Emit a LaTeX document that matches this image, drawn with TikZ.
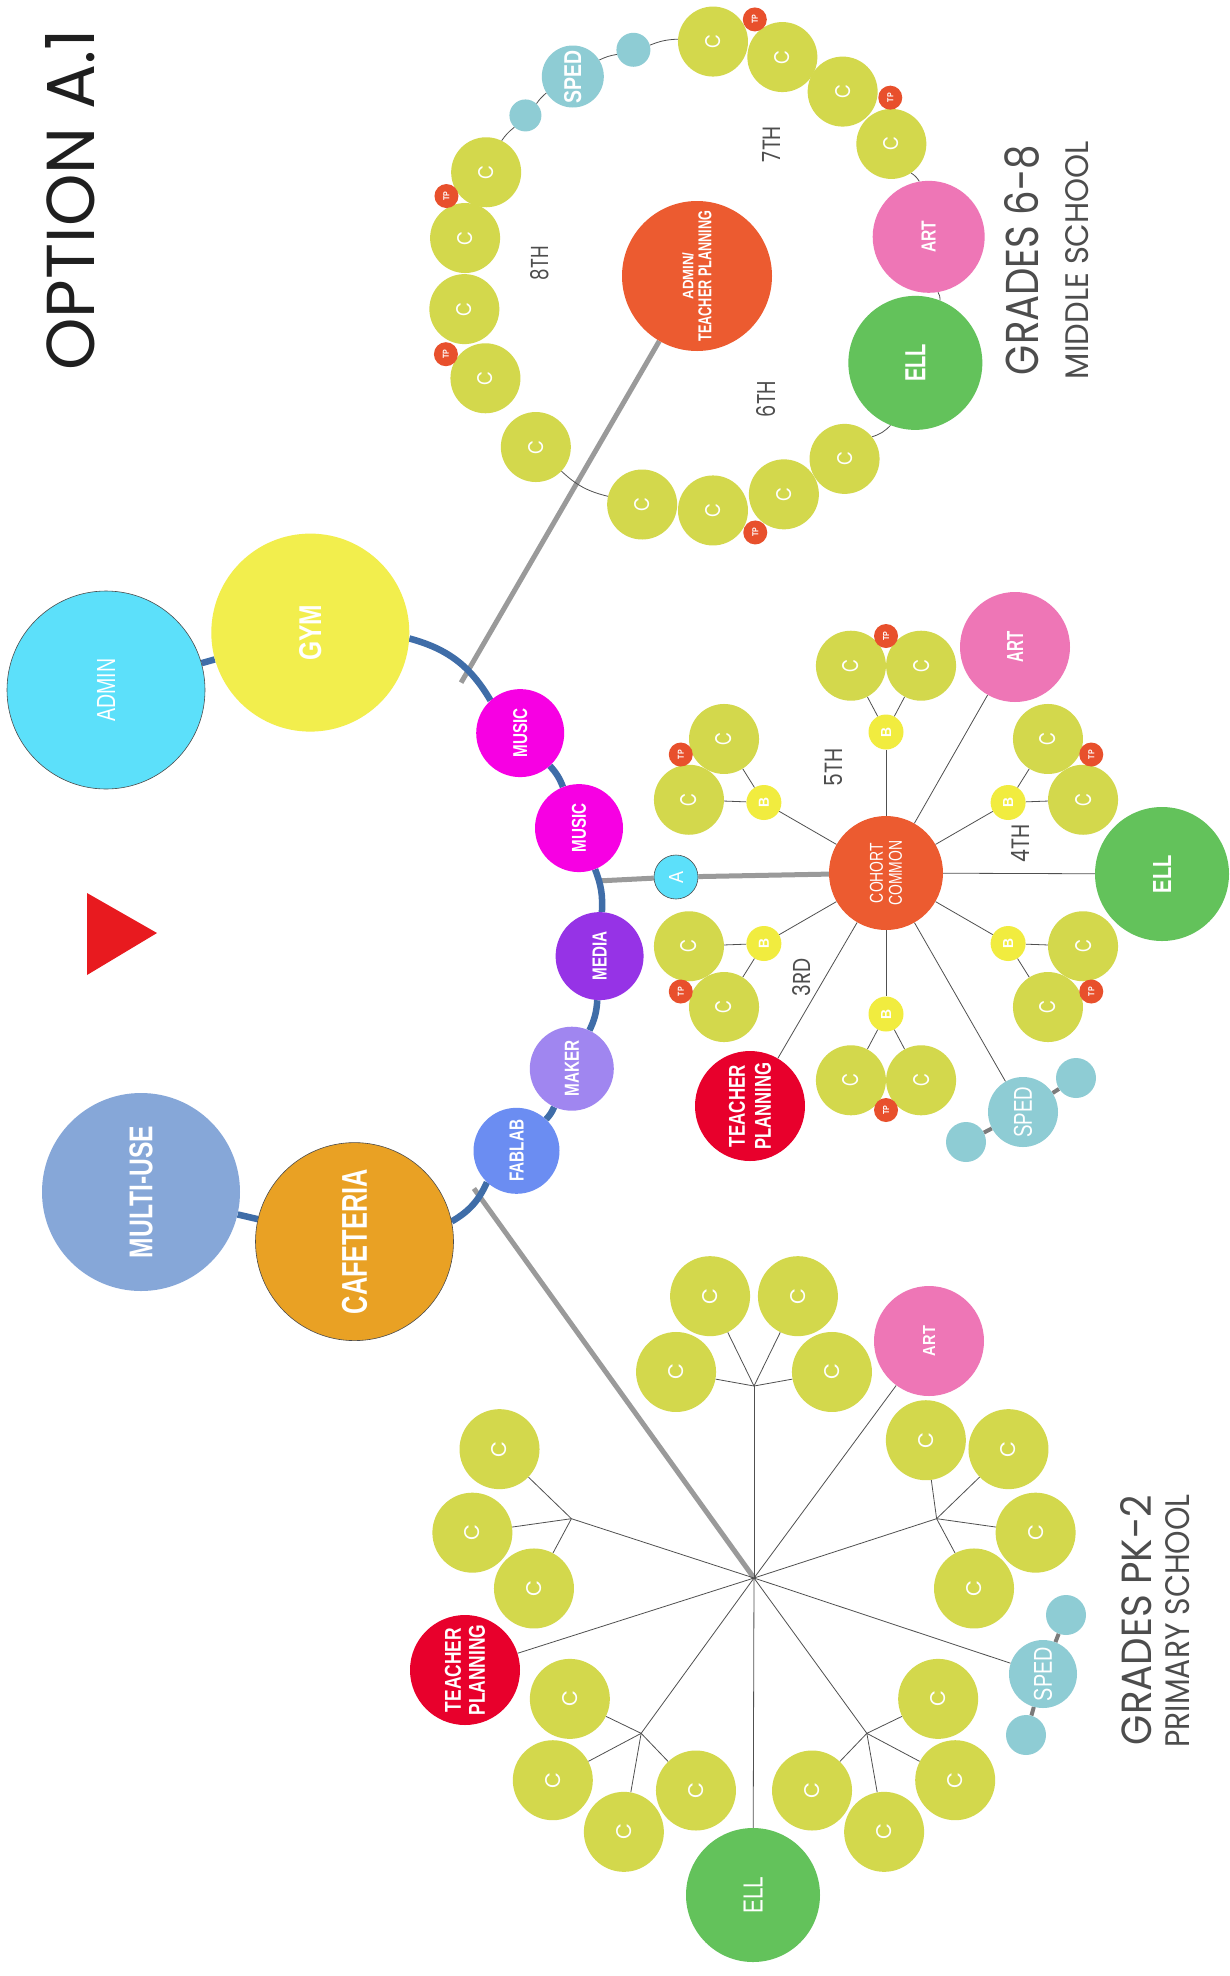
\documentclass[tikz,border=0pt]{standalone}
\usepackage{fontspec}
\setmainfont{Liberation Sans}
\newfontfamily\geo{Poppins}
\usetikzlibrary{calc}
\pgfdeclarelayer{back}
\pgfdeclarelayer{bg}
\pgfsetlayers{back,bg,main}
\renewcommand{\arraystretch}{0}
\newcommand\rb[3]{\resizebox{#1pt}{#2pt}{#3}}
\newcommand\rl[3]{\rotatebox{90}{\rb{#1}{#2}{#3}}}
\newcommand\twol[3]{\rotatebox{90}{\begin{tabular}{@{}c@{}}#1\\[#3pt]#2\end{tabular}}}
\definecolor{cC}{HTML}{D3D84C}
\definecolor{cTP}{HTML}{E8502C}
\definecolor{cAdmin}{HTML}{5CE0FA}
\definecolor{cGym}{HTML}{F2EE4D}
\definecolor{cMusic}{HTML}{F700E3}
\definecolor{cMedia}{HTML}{9633E6}
\definecolor{cMaker}{HTML}{A086F0}
\definecolor{cFab}{HTML}{6B8DF2}
\definecolor{cCaf}{HTML}{E9A124}
\definecolor{cMulti}{HTML}{86A7D8}
\definecolor{cBlue}{HTML}{3F6DA8}
\definecolor{cGray}{HTML}{9A9A9A}
\definecolor{cOrange}{HTML}{EC5B30}
\definecolor{cArt}{HTML}{EE76B6}
\definecolor{cEll}{HTML}{63C25B}
\definecolor{cRed}{HTML}{E8002C}
\definecolor{cSped}{HTML}{8ECCD4}
\definecolor{cB}{HTML}{F1EC3F}
\definecolor{cTri}{HTML}{E81A1F}
\definecolor{cText}{HTML}{4D4D4D}
\definecolor{cLine}{HTML}{505050}
\tikzset{
  ball/.style={circle,inner sep=0pt,minimum size=#1pt,text=white},
  cball/.style={ball=70,fill=cC},
  pball/.style={ball=80,fill=cC},
  tpball/.style={ball=24,fill=cTP},
  bball/.style={ball=35,fill=cB},
  thinl/.style={draw=cLine,line width=0.8pt},
  grayl/.style={draw=cGray,line width=5pt},
  spedl/.style={draw=cGray!80!black,line width=4pt},
  bluel/.style={draw=cBlue,line width=6.5pt},
  outl/.style={draw=black!70,line width=0.6pt},
  lbl/.style={text=cText,inner sep=0pt},
}
\begin{document}
\begin{tikzpicture}[x=1pt,y=-1pt]
\useasboundingbox (0,0) rectangle (1230,1976);
\begin{pgfonlayer}{back}
\fill[white] (0,0) rectangle (1230,1976);
\end{pgfonlayer}

% ---------- titles ----------
\node[lbl,text=black!88] (title) at (70,200) {\rl{341}{49}{\geo OPTION A.1}};
\node[lbl] (g68) at (1022,260) {\rl{230}{34}{\geo GRADES 6-8}};
\node[lbl] (ms) at (1077,260) {\rl{238}{23}{\geo MIDDLE SCHOOL}};
\node[lbl] (gpk) at (1136,1620) {\rl{250}{31}{\geo GRADES PK-2}};
\node[lbl] (ps) at (1178,1621) {\rl{253}{24}{\geo PRIMARY SCHOOL}};
\fill[cTri] (87,893) -- (87,975) -- (157,933) -- cycle;

% ---------- spine ----------
\node[ball=198,fill=cAdmin,outl] (admin) at (106,690) {\rl{63}{18}{ADMIN}};
\node[ball=198,fill=cGym] (gym) at (310.3,632.6) {\rl{56}{22}{\bfseries GYM}};
\node[ball=88,fill=cMusic] (mus1) at (520.2,733.1) {\rl{49}{14}{\bfseries MUSIC}};
\node[ball=88,fill=cMusic] (mus2) at (579.0,828.1) {\rl{49}{14}{\bfseries MUSIC}};
\node[ball=88,fill=cMedia] (media) at (599.6,956.1) {\rl{49}{14}{\bfseries MEDIA}};
\node[ball=84,fill=cMaker] (maker) at (571.8,1068.7) {\rl{56}{14}{\bfseries MAKER}};
\node[ball=86,fill=cFab] (fab) at (516.5,1150.8) {\rl{62}{14}{\bfseries FABLAB}};
\node[ball=198,fill=cCaf,outl] (caf) at (354.5,1241.6) {\rl{145}{25}{\bfseries CAFETERIA}};
\node[ball=198,fill=cMulti] (multi) at (141,1192) {\rl{132}{23}{\bfseries MULTI-USE}};
\coordinate (g1) at (461.1,682.6);
\coordinate (g2) at (597,881);
\coordinate (g3) at (473.9,1188.5);

% ---------- middle school ring ----------
\node[ball=150,fill=cOrange] (admtp) at (697,276) {\twol{\rb{47}{11}{\bfseries ADMIN/}}{\rb{131}{13}{\bfseries TEACHER PLANNING}}{5}};
\foreach \a [count=\i] in {153.8,170.7,188.1,205.8,226.7}
  \node[cball] (e\i) at ($(admtp.center)+(-\a:235)$) {\rl{14}{15}{\geo C}};
\foreach \a [count=\i] in {256.5,273.9,291.7,308.9}
  \node[cball] (s\i) at ($(admtp.center)+(-\a:235)$) {\rl{14}{15}{\geo C}};
\foreach \a [count=\i] in {34.2,51.7,68.7,86.1}
  \node[cball] (v\i) at ($(admtp.center)+(-\a:235)$) {\rl{14}{15}{\geo C}};
\node[ball=134,fill=cEll] (mell) at ($(admtp.center)+(-338.3:235)$) {\rl{38}{20}{\bfseries ELL}};
\node[ball=112,fill=cArt] (mart) at ($(admtp.center)+(-9.6:235)$) {\rl{32}{14}{\bfseries ART}};
\node[ball=34,fill=cSped] (mt1) at ($(admtp.center)+(-105.7:235)$) {};
\node[ball=62,fill=cSped] (msped) at ($(admtp.center)+(-121.9:235)$) {\rl{53}{17}{\bfseries SPED}};
\node[ball=32,fill=cSped] (mt2) at ($(admtp.center)+(-136.9:235)$) {};
\foreach \a [count=\i] in {162.3,197.3,77.3,42.7,282.8}
  \node[tpball] (mtp\i) at ($(admtp.center)+(-\a:263)$) {\rl{9}{6}{\bfseries TP}};
\node[lbl] (l8) at (540,263) {\rl{34}{18}{\geo 8TH}};
\node[lbl] (l7) at (771,144) {\rl{36}{18}{\geo 7TH}};
\node[lbl] (l6) at (766,399) {\rl{36}{19}{\geo 6TH}};

% ---------- cohort (grades 3-5) ----------
\node[ball=114,fill=cOrange] (coh) at (886,873) {\twol{\rb{60}{13}{COHORT}}{\rb{65}{13}{COMMON}}{6}};
\node[ball=44,fill=cAdmin,outl] (aa) at (676,877) {\rl{12}{14}{A}};
\node[ball=110,fill=cArt] (cart) at (1015,647) {\rl{31}{16}{\bfseries ART}};
\node[ball=134,fill=cEll] (cell) at (1162,874) {\rl{38}{18}{\bfseries ELL}};
\node[ball=110,fill=cRed] (ctp) at (750,1106) {\twol{\rb{82}{16}{\bfseries TEACHER}}{\rb{87}{16}{\bfseries PLANNING}}{10}};
\node[ball=70,fill=cSped] (csped) at (1023,1112) {\rl{51}{18}{SPED}};
\node[ball=40,fill=cSped] (cs1) at (1076,1078) {};
\node[ball=40,fill=cSped] (cs2) at (966,1142) {};
\foreach \p [count=\i] in {150,90,30,210,270,330} {
  \node[bball] (b\i) at ($(coh.center)+(-\p:141)$) {\rl{10}{10}{\bfseries B}};
  \node[cball] (bx\i) at ($(b\i.center)+({-(\p+27.9)}:75)$) {\rl{13}{16}{\geo C}};
  \node[cball] (by\i) at ($(b\i.center)+({-(\p-27.9)}:75)$) {\rl{13}{16}{\geo C}};
  \node[tpball] (bt\i) at ($(b\i.center)+(-\p:96)$) {\rl{9}{6}{\bfseries TP}};
}
\node[lbl] (l5) at (834,767) {\rl{38}{18}{\geo 5TH}};
\node[lbl] (l4) at (1020,843) {\rl{38}{18}{\geo 4TH}};
\node[lbl] (l3) at (802,977) {\rl{38}{18}{\geo 3RD}};

% ---------- primary school ----------
\coordinate (hub) at (754,1578);
\foreach \p/\n in {90/t,18/r,-54/lr,-126/ll} {
  \coordinate (j\n) at ($(hub)+(-\p:192)$);
  \foreach \d/\s/\k in {26.05/100/1,-26.05/100/2,79.8/79.2/3,-79.8/79.2/4}
    \node[pball] (pc\n\k) at ($(j\n)+({-(\p+\d)}:\s)$) {\rl{16}{15}{\geo C}};
}
\coordinate (jl) at ($(hub)+(-162:192)$);
\foreach \d/\s/\k in {26.05/100/1,-26.05/100/2,79.8/79.2/3}
  \node[pball] (pcl\k) at ($(jl)+({-(162+\d)}:\s)$) {\rl{16}{15}{\geo C}};
\node[ball=110,fill=cArt] (part) at (929,1341) {\rl{30}{12}{\bfseries ART}};
\node[ball=68,fill=cSped] (psped) at (1043,1674) {\rl{54}{18}{SPED}};
\node[ball=40,fill=cSped] (ps1) at (1066,1615) {};
\node[ball=40,fill=cSped] (ps2) at (1026,1735) {};
\node[ball=134,fill=cEll] (pell) at (753,1895) {\rl{37}{19}{ELL}};
\node[ball=110,fill=cRed] (ptp) at (465,1670) {\twol{\rb{84}{16}{\bfseries TEACHER}}{\rb{91}{16}{\bfseries PLANNING}}{8}};

% ---------- connectors ----------
\begin{pgfonlayer}{bg}
\draw[grayl] (g1) -- (admtp);
\draw[grayl] (g2) -- (aa);
\draw[grayl] (aa) -- (coh);
\draw[grayl] (g3) -- (hub);
\draw[bluel] (admin) -- (gym);
\draw[bluel] (multi) -- (caf);
\draw[bluel] (gym) to[bend left=22.2] (mus1);
\draw[bluel] (mus1) to[bend left=10.45] (mus2);
\draw[bluel] (mus2) to[bend left=12.15] (media);
\draw[bluel] (media) to[bend left=10.85] (maker);
\draw[bluel] (maker) to[bend left=9.25] (fab);
\draw[bluel] (fab) to[bend left=17.55] (caf);
% ring
\draw[thinl] (e5) to[bend right=14.9] (s1);
\draw[thinl] (s4) to[bend right=14.7] (mell);
\draw[thinl] (mell) to[bend right=15.6] (mart);
\draw[thinl] (mart) to[bend right=12.3] (v1);
\draw[thinl] (v4) to[bend right=9.8] (mt1);
\draw[thinl] (mt1) to[bend right=8.1] (msped);
\draw[thinl] (msped) to[bend right=7.5] (mt2);
\draw[thinl] (mt2) to[bend right=8.5] (e1);
% cohort
\foreach \i in {1,...,6} {
  \draw[thinl] (coh) -- (b\i);
  \draw[thinl] (b\i) -- (bx\i);
  \draw[thinl] (b\i) -- (by\i);
}
\draw[thinl] (coh) -- (cart);
\draw[thinl] (coh) -- (cell);
\draw[thinl] (coh) -- (csped);
\draw[thinl] (coh) -- (ctp);
\draw[spedl] (csped) -- (cs1);
\draw[spedl] (csped) -- (cs2);
% primary
\foreach \n in {t,r,lr,ll} {
  \draw[thinl] (hub) -- (j\n);
  \foreach \k in {1,...,4} \draw[thinl] (j\n) -- (pc\n\k);
}
\draw[thinl] (hub) -- (jl);
\foreach \k in {1,2,3} \draw[thinl] (jl) -- (pcl\k);
\draw[thinl] (hub) -- (part);
\draw[thinl] (hub) -- (psped);
\draw[thinl] (hub) -- (pell);
\draw[thinl] (hub) -- (ptp);
\draw[spedl] (psped) -- (ps1);
\draw[spedl] (psped) -- (ps2);
\end{pgfonlayer}
\end{tikzpicture}
\end{document}
